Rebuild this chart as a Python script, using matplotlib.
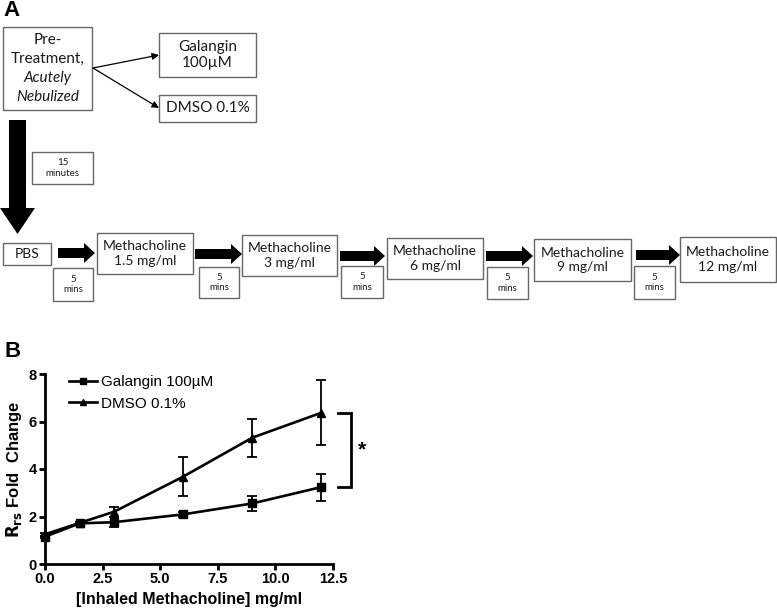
import matplotlib.pyplot as plt
from matplotlib.patches import Rectangle, Polygon
from matplotlib.lines import Line2D

# panel B values (fold change of Rrs, mean and error)
dose = [0, 1.5, 3, 6, 9, 12]
galangin_mean = [1.15, 1.71, 1.76, 2.09, 2.55, 3.24]
galangin_err = [0.05, 0.05, 0.20, 0.12, 0.32, 0.57]
dmso_mean = [1.25, 1.73, 2.20, 3.68, 5.32, 6.37]
dmso_err = [0.05, 0.05, 0.22, 0.83, 0.80, 1.38]
series_names = ["Galangin 100\u00b5M", "DMSO 0.1%"]
x_ticks = [0.0, 2.5, 5.0, 7.5, 10.0, 12.5]
y_ticks = [0, 2, 4, 6, 8]

# panel A texts
pretreat_text = ["Pre-", "Treatment,", "Acutely", "Nebulized"]
treatment_text = ["Galangin\n100\u00b5M", "DMSO 0.1%"]
step_text = ["PBS", "Methacholine\n1.5 mg/ml", "Methacholine\n3 mg/ml",
             "Methacholine\n6 mg/ml", "Methacholine\n9 mg/ml", "Methacholine\n12 mg/ml"]
wait_text = "5\nmins"
first_wait_text = "15\nminutes"

fig = plt.figure(figsize=(7.77, 6.11), dpi=100)

# ---------- panel A: flow diagram, drawn in pixel units ----------
dg = fig.add_axes([0, 0, 1, 1])
dg.set_xlim(0, 777)
dg.set_ylim(611, 0)
dg.axis("off")

box_col = "#666666"
txt_col = "#1a1a1a"
flow_font = "Lato"


def box(x, y, w, h, text=None, size=9.5):
    dg.add_patch(Rectangle((x, y), w, h, fill=False, edgecolor=box_col, lw=1.0))
    if text is not None:
        dg.text(x + w / 2, y + h / 2, text, ha="center", va="center", fontsize=size,
                color=txt_col, family=flow_font, linespacing=1.25)


def fat_arrow(x0, x1, y, half=5, head_half=10, head_len=11):
    pts = [(x0, y - half), (x1 - head_len, y - half), (x1 - head_len, y - head_half),
           (x1, y), (x1 - head_len, y + head_half), (x1 - head_len, y + half), (x0, y + half)]
    dg.add_patch(Polygon(pts, closed=True, color="black", lw=0))


# pre-treatment box
box(3, 27, 89, 83)
line_y = [40, 59, 78, 97]
for t, ly, it in zip(pretreat_text, line_y, [False, False, True, True]):
    dg.text(47.5, ly, t, ha="center", va="center", fontsize=11, color=txt_col,
            family=flow_font, style="italic" if it else "normal")

# treatment boxes
box(159, 33, 97, 44, treatment_text[0], size=11)
box(159, 95, 97, 27, treatment_text[1], size=11)
for ty in [55, 108]:
    dg.annotate("", xy=(159, ty), xytext=(93, 68),
                arrowprops=dict(arrowstyle="-|>", color="black", lw=0.9,
                                mutation_scale=10, shrinkA=0, shrinkB=0))

# big downward arrow
dg.add_patch(Polygon([(9, 120), (26, 120), (26, 208), (35, 208), (17.5, 234),
                      (0, 208), (9, 208)], closed=True, color="black", lw=0))
box(32, 152, 61, 32, first_wait_text, size=7)

# row of steps
step_boxes = [(3, 243, 48, 22), (97, 233, 96, 41), (242, 235, 95, 41),
              (387, 238, 96, 41), (534, 239, 97, 42), (680, 237, 96, 45)]
wait_boxes = [(53, 268, 40, 33), (199, 267, 40, 31), (341, 266, 42, 32),
              (487, 267, 41, 32), (634, 266, 41, 33)]
arrow_runs = [(58, 95, 253), (195, 242, 254), (340, 385, 256), (486, 533, 256), (636, 680, 255)]
for (x, y, w, h), t in zip(step_boxes, step_text):
    box(x, y, w, h, t, size=10)
for (x, y, w, h) in wait_boxes:
    box(x, y, w, h, wait_text, size=7)
for x0, x1, yy in arrow_runs:
    fat_arrow(x0, x1, yy)

fig.text(3 / 777, 1 - 11 / 611, "A", fontsize=16, fontweight="bold",
         family="Liberation Sans", va="center", ha="left")
fig.text(5 / 777, 1 - 351 / 611, "B", fontsize=16, fontweight="bold",
         family="Liberation Sans", va="center", ha="left")

# ---------- panel B: dose response ----------
ax = fig.add_axes([45 / 777, 47 / 611, 288 / 777, 190 / 611])
ax.patch.set_alpha(0)
lw = 1.9
ax.errorbar(dose, galangin_mean, yerr=galangin_err, color="black", lw=lw, marker="s",
            ms=5.5, capsize=3.5, elinewidth=1.3, capthick=1.3, clip_on=False)
ax.errorbar(dose, dmso_mean, yerr=dmso_err, color="black", lw=lw, marker="^",
            ms=5.5, capsize=3.5, elinewidth=1.3, capthick=1.3, clip_on=False)

ax.set_xlim(0, 12.5)
ax.set_ylim(0, 8)
ax.set_xticks(x_ticks)
ax.set_xticklabels([f"{v:.1f}" for v in x_ticks])
ax.set_yticks(y_ticks)
for s in ["top", "right"]:
    ax.spines[s].set_visible(False)
for s in ["left", "bottom"]:
    ax.spines[s].set_linewidth(2.0)
ax.tick_params(width=2.0, length=4, labelsize=10.5, pad=2)
for lab in ax.get_xticklabels() + ax.get_yticklabels():
    lab.set_fontweight("bold")
    lab.set_family("Liberation Sans")

ax.set_xlabel("[Inhaled Methacholine] mg/ml", fontsize=11.5, fontweight="bold",
              family="Liberation Sans", labelpad=4)
ax.set_ylabel(r"$\mathbf{R_{rs}}$ Fold  Change", fontsize=12, fontweight="bold",
              family="Liberation Sans", labelpad=3)

handles = [Line2D([], [], color="black", lw=lw, marker=m, ms=5) for m in ["s", "^"]]
ax.legend(handles, series_names, loc="upper left", bbox_to_anchor=(0.083, 0.995),
          frameon=False, borderpad=0, borderaxespad=0, handlelength=1.85,
          handletextpad=0.25, labelspacing=0.5,
          prop={"family": "Liberation Sans", "size": 11})

# significance bracket between the 12 mg/ml points
bx0, bx1 = 12.72, 13.3
yt, yb = dmso_mean[-1], galangin_mean[-1]
ax.plot([bx0, bx1, bx1, bx0], [yt, yt, yb, yb], color="black", lw=2.0,
        clip_on=False, solid_joinstyle="miter")
ax.text(13.6, (yt + yb) / 2, "*", fontsize=15, fontweight="bold",
        family="Liberation Sans", ha="left", va="center")

fig.savefig("out.png", dpi=100)
